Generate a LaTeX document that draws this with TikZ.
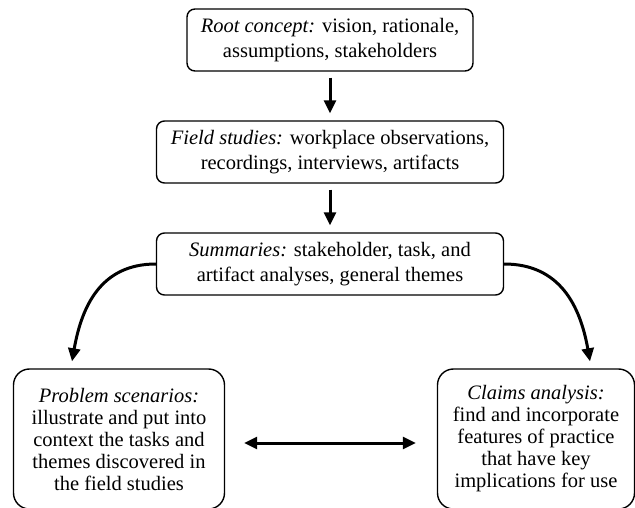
\documentclass[tikz,border=0pt]{standalone}
\usepackage{fontspec}
\setmainfont{Liberation Serif}
\usetikzlibrary{arrows.meta}

\begin{document}
\begin{tikzpicture}[node distance=112pt,
    topbox/.style={draw, line width=1.4pt, rounded corners=8pt, align=center,
        minimum height=62pt, font=\fontsize{20.5}{25}\selectfont},
    lowbox/.style={draw, line width=1.4pt, rounded corners=16pt, align=center,
        minimum height=140pt, font=\fontsize{20.5}{22}\selectfont},
    flow/.style={line width=3pt, -{Triangle[length=13pt,width=12pt]}}]
    \useasboundingbox (0,0) rectangle (635pt,-508pt);

    % Top chain
    \node[topbox, minimum width=286pt] (root) at (330pt,-40pt)
        {\textit{Root concept:} vision, rationale,\\assumptions, stakeholders};
    \node[topbox, minimum width=347pt, below of=root] (field)
        {\textit{Field studies:} workplace observations,\\recordings, interviews, artifacts};
    \node[topbox, minimum width=347pt, below of=field] (summ)
        {\textit{Summaries:} stakeholder, task, and\\artifact analyses, general themes};

    % Lower boxes
    \node[lowbox, minimum width=211pt, below of=summ, xshift=-211pt, yshift=-63pt] (prob)
        {\textit{Problem scenarios:}\\illustrate and put into\\context the tasks and\\themes discovered in\\the field studies};
    \node[lowbox, minimum width=197pt, below of=summ, xshift=206pt, yshift=-63pt] (claims)
        {\textit{Claims analysis:}\\find and incorporate\\features of practice\\that have key\\implications for use};

    % Tips of the curved arrows
    \coordinate (probin) at ([xshift=-47pt,yshift=7pt]prob.north);
    \coordinate (claimsin) at ([xshift=54pt,yshift=7pt]claims.north);

    % Connections
    \draw[flow, shorten <=6pt, shorten >=7pt] (root) -- (field);
    \draw[flow, shorten <=6pt, shorten >=7pt] (field) -- (summ);
    \draw[flow] (summ.west) to[out=180, in=80, looseness=1.1] (probin);
    \draw[flow] (summ.east) to[out=0, in=100, looseness=1.1] (claimsin);
    \draw[flow, {Triangle[length=13pt,width=12pt]}-{Triangle[length=13pt,width=12pt]},
        shorten <=19pt, shorten >=21pt] ([yshift=-4pt]prob.east) -- ([yshift=-4pt]claims.west);
\end{tikzpicture}
\end{document}
